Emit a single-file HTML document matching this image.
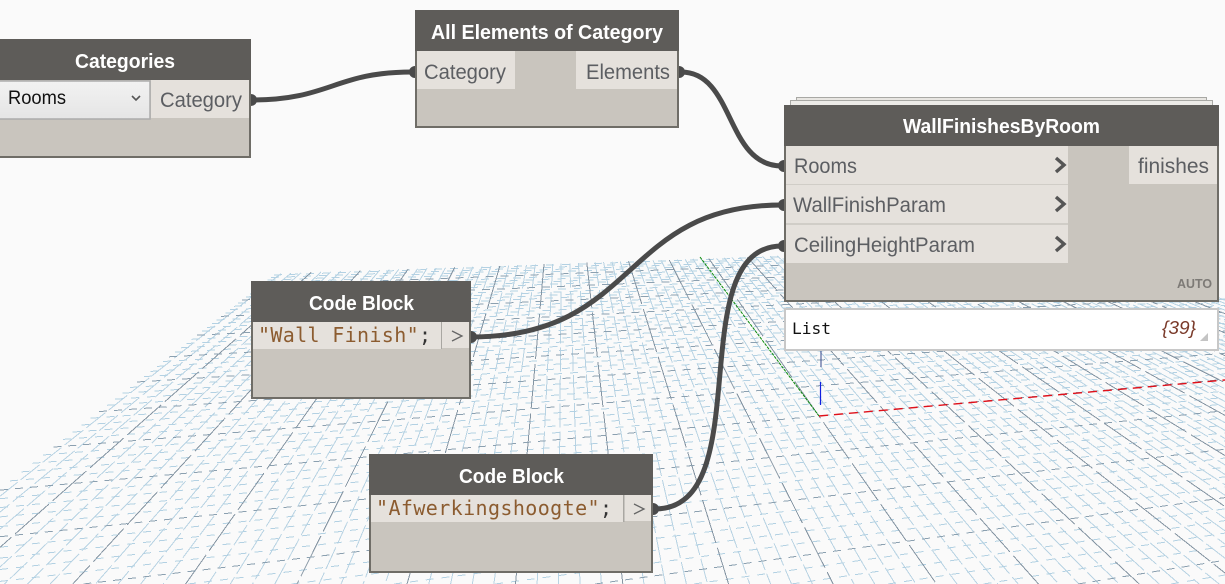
<!DOCTYPE html>
<html><head><meta charset="utf-8"><style>
html,body{margin:0;padding:0;background:#fafafa;width:1225px;height:584px;overflow:hidden}
svg{display:block;position:absolute;left:0;top:0}
.t{font-family:"Liberation Sans",sans-serif;font-weight:bold;font-size:20px;fill:#fff;stroke:none}
.l{font-family:"Liberation Sans",sans-serif;font-size:21px;fill:#5c5e62;stroke:none}
.c{font-family:"DejaVu Sans Mono",monospace;font-size:20px;fill:#8c5c30;stroke:none}
.hd{fill:#5e5c59}.bd{fill:#c9c5be;stroke:#6f6d67;stroke-width:2}.pt{fill:#e5e1dc}
.w{fill:none;stroke:#4a4a4a;stroke-width:5;stroke-linecap:round}
.d{fill:#4a4a4a}
</style></head><body>
<svg width="1225" height="584" viewBox="0 0 1225 584" xmlns="http://www.w3.org/2000/svg">
<rect width="1225" height="584" fill="#fafafa"/>
<g id="grid" shape-rendering="crispEdges" fill="none" stroke-width="1"></g>
<line x1="700" y1="257" x2="819" y2="416" stroke="#0a8a0a" stroke-width="1" stroke-dasharray="3 1"/>
<path d="M819 416 L1225 380" stroke="#e0101a" stroke-width="1.4" fill="none" stroke-dasharray="9 6"/>
<line x1="821" y1="350" x2="821" y2="367" stroke="#33468a" stroke-width="1"/>
<line x1="820.5" y1="382" x2="820.5" y2="405" stroke="#1020e0" stroke-width="1.2"/>

<path class="w" d="M252 100 C330 100 335 72 412 72"/>
<path class="w" d="M681 72 C735 72 725 166 782 166"/>
<path class="w" d="M471 337 C640 337 620 205 782 205"/>
<path class="w" d="M655 509 C760 509 680 246 782 246"/>
<circle class="d" cx="251" cy="100" r="6"/>
<circle class="d" cx="415" cy="72" r="6"/>
<circle class="d" cx="679" cy="72" r="6"/>
<circle class="d" cx="784" cy="166" r="6"/>
<circle class="d" cx="784" cy="205" r="6"/>
<circle class="d" cx="784" cy="246" r="6"/>
<circle class="d" cx="471" cy="337" r="6"/>
<circle class="d" cx="653" cy="509" r="6"/>

<!-- Categories -->
<path class="bd" d="M0 40H250V157H0"/>
<rect class="hd" x="0" y="39" width="251" height="41"/>
<rect class="pt" x="151" y="80" width="98" height="38"/>
<defs><linearGradient id="g" x1="0" y1="0" x2="0" y2="1"><stop offset="0" stop-color="#f2f2f2"/><stop offset="1" stop-color="#e5e5e5"/></linearGradient></defs>
<path d="M0 81H150V119H0Z" fill="url(#g)"/>
<path d="M0 81H150V119H0" fill="none" stroke="#acacac" stroke-width="1.5"/>
<polyline points="132,96 136,100 140,96" fill="none" stroke="#555" stroke-width="1.6"/>
<text class="t" x="75" y="68" textLength="100" lengthAdjust="spacingAndGlyphs">Categories</text>
<text class="l" x="8" y="104" textLength="58" lengthAdjust="spacingAndGlyphs" style="fill:#111;font-size:19px">Rooms</text>
<text class="l" x="160" y="107" textLength="82" lengthAdjust="spacingAndGlyphs">Category</text>

<!-- All Elements -->
<rect class="bd" x="416" y="12" width="262" height="115"/>
<rect class="hd" x="415" y="10" width="264" height="41"/>
<rect class="pt" x="417" y="51" width="98" height="38"/>
<rect class="pt" x="576" y="51" width="101" height="38"/>
<text class="t" x="431" y="39" textLength="232" lengthAdjust="spacingAndGlyphs">All Elements of Category</text>
<text class="l" x="424" y="79" textLength="82" lengthAdjust="spacingAndGlyphs">Category</text>
<text class="l" x="586" y="79" textLength="84" lengthAdjust="spacingAndGlyphs">Elements</text>

<!-- WallFinishesByRoom -->
<rect x="796.5" y="97.5" width="410" height="10" fill="#e8e6e2" stroke="#a8a8a4"/>
<rect x="790.5" y="100.5" width="422" height="10" fill="#ecebe7" stroke="#a8a8a4"/>
<rect class="bd" x="785" y="106" width="433" height="195"/>
<rect class="hd" x="784" y="105" width="435" height="41"/>
<rect class="pt" x="786" y="146" width="282" height="38"/>
<rect class="pt" x="786" y="185" width="282" height="38"/>
<rect class="pt" x="786" y="225" width="282" height="38"/>
<rect x="786" y="184" width="282" height="1" fill="#d0cdc7"/>
<rect x="786" y="223" width="282" height="2" fill="#d0cdc7"/>
<rect class="pt" x="1129" y="146" width="88" height="38"/>
<text class="t" x="903" y="133" textLength="197" lengthAdjust="spacingAndGlyphs">WallFinishesByRoom</text>
<text class="l" x="794" y="173" textLength="63" lengthAdjust="spacingAndGlyphs">Rooms</text>
<text class="l" x="793" y="212" textLength="153" lengthAdjust="spacingAndGlyphs">WallFinishParam</text>
<text class="l" x="794" y="252" textLength="181" lengthAdjust="spacingAndGlyphs">CeilingHeightParam</text>
<text class="l" x="1138" y="173" textLength="71" lengthAdjust="spacingAndGlyphs">finishes</text>
<g fill="none" stroke="#555" stroke-width="3.4">
<polyline points="1056,158 1064,165 1056,172"/>
<polyline points="1056,197 1064,204 1056,211"/>
<polyline points="1056,237 1064,244 1056,251"/>
</g>
<text x="1177" y="288" textLength="35" lengthAdjust="spacingAndGlyphs" style="font-family:'Liberation Sans',sans-serif;font-weight:bold;font-size:12.5px;fill:#7d7a76">AUTO</text>

<!-- Preview -->
<rect x="785" y="309" width="433" height="41" fill="#fff" stroke="#c8c8c8" stroke-width="2"/>
<text x="792" y="334" textLength="39" lengthAdjust="spacingAndGlyphs" style="font-family:'DejaVu Sans Mono',monospace;font-size:16px;fill:#111">List</text>
<text x="1162" y="334" textLength="34" lengthAdjust="spacingAndGlyphs" style="font-family:'Liberation Sans',sans-serif;font-style:italic;font-size:18px;fill:#7a3a2a">{39}</text>
<polygon points="1208,333 1208,341 1200,341" fill="#c4c4c4"/>

<!-- Code Block 1 -->
<rect class="bd" x="252" y="282" width="218" height="116"/>
<rect class="hd" x="251" y="281" width="220" height="41"/>
<rect class="pt" x="253" y="322" width="188" height="27"/>
<rect class="pt" x="442" y="322" width="27" height="26"/>
<rect x="441" y="322" width="1" height="27" fill="#a9a7a2"/>
<text class="t" x="309" y="310" textLength="105" lengthAdjust="spacingAndGlyphs">Code Block</text>
<text class="c" x="258" y="342" textLength="173" lengthAdjust="spacing"><tspan>"Wall Finish"</tspan><tspan style="fill:#333">;</tspan></text>
<polyline points="452,331 462,336 452,341" fill="none" stroke="#666" stroke-width="1.3"/>

<!-- Code Block 2 -->
<rect class="bd" x="370" y="455" width="282" height="117"/>
<rect class="hd" x="369" y="454" width="284" height="41"/>
<rect class="pt" x="371" y="495" width="252" height="27"/>
<rect class="pt" x="624" y="495" width="27" height="26"/>
<rect x="623" y="495" width="1.5" height="27" fill="#a9a7a2"/>
<text class="t" x="459" y="483" textLength="105" lengthAdjust="spacingAndGlyphs">Code Block</text>
<text class="c" x="376" y="515" textLength="236" lengthAdjust="spacing"><tspan>"Afwerkingshoogte"</tspan><tspan style="fill:#333">;</tspan></text>
<polyline points="634,504 644,509 634,514" fill="none" stroke="#666" stroke-width="1.3"/>
</svg>
<script>
(function(){
var g=document.getElementById('grid'),NS='http://www.w3.org/2000/svg';
var O=[819,416],V1=[563,50],V2=[3760,150],a=.0225,b=.085;
var uMin=-9.7,uMax=10.9,vTop=8.9,W=1225,H=584;
function P(u,v){var A=a*u,B=b*v,w=1+A+B;return[(O[0]+A*V2[0]+B*V1[0])/w,(O[1]+A*V2[1]+B*V1[1])/w];}
function clip(p,q){var t0=0,t1=1,dx=q[0]-p[0],dy=q[1]-p[1];
 var c=[[-dx,p[0]],[dx,W-p[0]],[-dy,p[1]],[dy,H-p[1]]];
 for(var i=0;i<4;i++){var pp=c[i][0],qq=c[i][1];
  if(pp===0){if(qq<0)return null;continue;}
  var r=qq/pp;
  if(pp<0){if(r>t1)return null;if(r>t0)t0=r;}
  else{if(r<t0)return null;if(r<t1)t1=r;}}
 return[[p[0]+t0*dx,p[1]+t0*dy],[p[0]+t1*dx,p[1]+t1*dy]];}
function L(p,q,col,dash){var c=clip(p,q);if(!c)return;p=c[0];q=c[1];
var l=document.createElementNS(NS,'line');
l.setAttribute('x1',p[0].toFixed(1));l.setAttribute('y1',p[1].toFixed(1));
l.setAttribute('x2',q[0].toFixed(1));l.setAttribute('y2',q[1].toFixed(1));
l.setAttribute('stroke',col);l.setAttribute('stroke-dasharray',dash);g.appendChild(l);}
var i,u,v,vE,uS,maj;
for(var pass=0;pass<2;pass++){
 for(i=Math.ceil(uMin*5);i<=Math.floor(uMax*5);i++){
  maj=(i%5===0);if(maj!==(pass===1))continue;
  u=i/5;vE=-(0.9+a*u)/b;
  L(P(u,vTop),P(u,vE),maj?'#8494a2':'#b8d3e3',maj?'45 5':'24 4');
 }
 for(i=Math.floor(vTop*5);i>=-35;i--){
  maj=(i%5===0);if(maj!==(pass===1))continue;
  v=i/5;uS=Math.max(uMin,(0.05-1-b*v)/a);
  L(P(uS,v),P(uMax,v),maj?'#8ba0b0':'#b3d1e3',maj?'8 7':'8 8');
 }
}
})();
</script>
</body></html>
